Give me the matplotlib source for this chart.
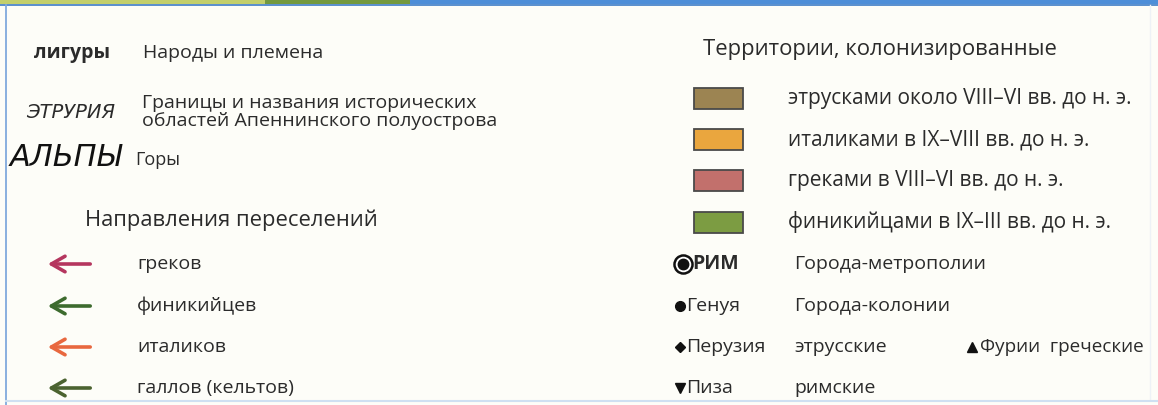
import matplotlib.pyplot as plt
from matplotlib.patches import Rectangle, FancyArrowPatch

plt.rcParams['font.family'] = ['Open Sans', 'DejaVu Sans']
plt.rcParams['font.stretch'] = 'normal'

# legend content
sign_samples = ["лигуры", "ЭТРУРИЯ", "АЛЬПЫ"]
sign_texts = ["Народы и племена",
              "Границы и названия исторических\nобластей Апеннинского полуострова",
              "Горы"]

move_title = "Направления переселений"
move_labels = ["греков", "финикийцев", "италиков", "галлов (кельтов)"]
move_colors = ["#b5365f", "#3d6b2e", "#e8683f", "#4b6330"]

terr_title = "Территории, колонизированные"
terr_labels = ["этрусками около VIII–VI вв. до н. э.",
               "италиками в IX–VIII вв. до н. э.",
               "греками в VIII–VI вв. до н. э.",
               "финикийцами в IX–III вв. до н. э."]
terr_colors = ["#9c8452", "#eaa63e", "#c2706c", "#7c9c42"]

city_names = ["РИМ", "Генуя", "Перузия", "Пиза"]
city_texts = ["Города-метрополии", "Города-колонии", "этрусские", "римские"]
city_markers = ["o", "o", "D", "v"]

ink = "#2b2b2b"
rows = [264, 306, 347, 388]

fig = plt.figure(figsize=(11.58, 4.05), dpi=100)
fig.patch.set_facecolor("#fdfdf8")
ax = fig.add_axes([0, 0, 1, 1])
ax.set_xlim(0, 1158)
ax.set_ylim(405, 0)
ax.axis("off")

# frame: coloured strip on top, thin blue border
ax.add_patch(Rectangle((0, 0), 265, 4, color="#c2cf6c", lw=0))
ax.add_patch(Rectangle((265, 0), 145, 4, color="#73993f", lw=0))
ax.add_patch(Rectangle((410, 0), 748, 4, color="#4d8ed8", lw=0))
ax.plot([0, 1158], [4.5, 4.5], color="#3c7cc6", lw=1.2)
ax.plot([6, 6], [5, 405], color="#80a9dd", lw=1.3)
ax.plot([1150, 1150], [5, 400], color="#eef2f6", lw=1.0)
ax.plot([6, 1158], [401, 401], color="#cfe0f2", lw=1.5)

# left column: map signs
ax.text(72, 53, sign_samples[0], fontsize=14, fontweight="bold", color=ink,
        ha="center", va="center")
ax.text(71, 112, sign_samples[1], fontsize=14, fontstyle="italic", color=ink,
        ha="center", va="center", family=["DejaVu Sans"])
ax.text(66, 158, sign_samples[2], fontsize=22, fontstyle="italic", color="#111",
        ha="center", va="center", family=["DejaVu Sans"])
ax.text(143, 53, sign_texts[0], fontsize=14, color=ink, va="center")
ax.text(142, 112, sign_texts[1], fontsize=14, color=ink, va="center",
        linespacing=0.95)
ax.text(135, 160, sign_texts[2], fontsize=13, color=ink, va="center")

ax.text(85, 220, move_title, fontsize=15.8, color=ink, va="center")
for y, lab, col in zip(rows, move_labels, move_colors):
    ax.add_patch(FancyArrowPatch((93, y), (45, y),
                                 arrowstyle="->,head_length=7,head_width=4",
                                 color=col, lw=2.6, mutation_scale=1.4))
    ax.text(137, y, lab, fontsize=14, color=ink, va="center")

# right column: territories
ax.text(703, 50, terr_title, fontsize=15.8, color=ink, va="center")
for i, (lab, col) in enumerate(zip(terr_labels, terr_colors)):
    y = 98.5 + i * 41.2
    ax.add_patch(Rectangle((694, y - 10.5), 49, 21, facecolor=col,
                           edgecolor="#4a4a4a", lw=1.3))
    ax.text(788, y, lab, fontsize=15, color=ink, va="center")

# cities
for y, name, txt, mk in zip(rows, city_names, city_texts, city_markers):
    if name == city_names[0]:
        ax.plot(683, y, marker="o", ms=13, mfc="white", mec="#111", mew=1.8)
        ax.plot(683, y, marker="o", ms=7.5, color="#111")
        ax.text(692, y, name, fontsize=14, fontweight="bold", color=ink, va="center")
    else:
        ax.plot(680, y, marker=mk, ms=7 if mk != "D" else 5.5, color="#111")
        ax.text(686, y, name, fontsize=14, color=ink, va="center")
    ax.text(794, y, txt, fontsize=14, color=ink, va="center")

ax.plot(972, rows[2], marker="^", ms=7, color="#111")
ax.text(980, rows[2], "Фурии  греческие", fontsize=13.6, color=ink, va="center")

fig.savefig("out.png", dpi=100, facecolor=fig.get_facecolor())
